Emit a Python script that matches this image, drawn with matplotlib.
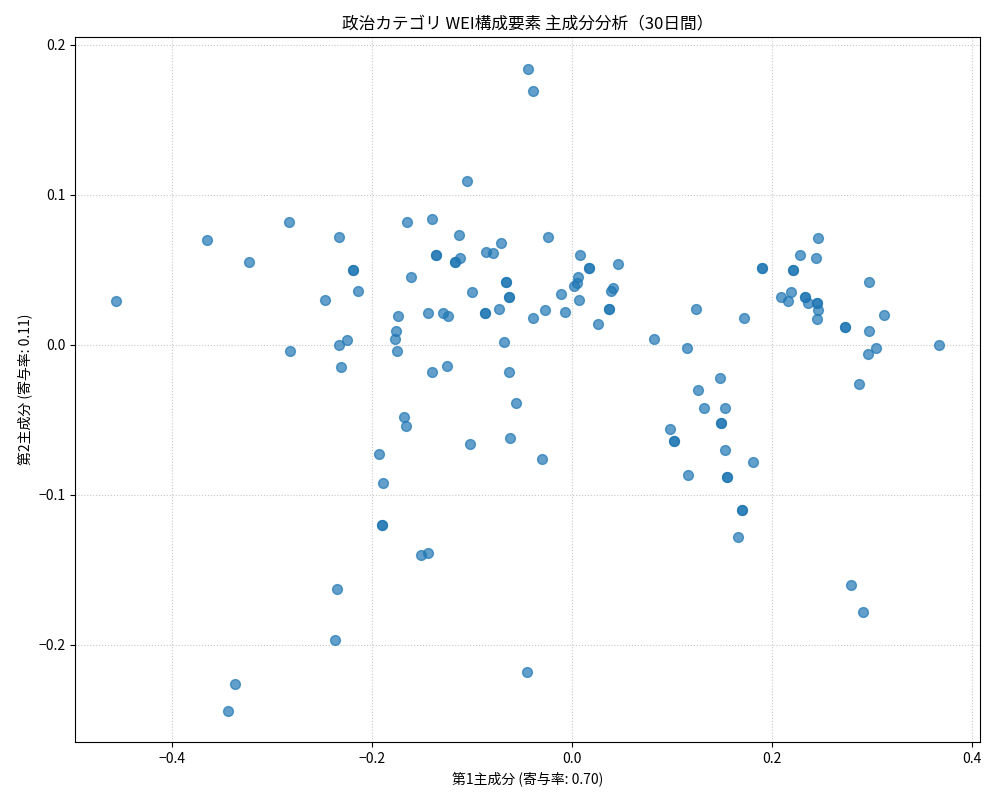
import matplotlib
matplotlib.use("Agg")
import matplotlib.pyplot as plt

plt.rcParams['font.family'] = ['Noto Sans CJK JP', 'DejaVu Sans']
plt.rcParams['axes.unicode_minus'] = True

pc1 = [
    -0.456, -0.365, -0.323, -0.283, -0.282,
    -0.044, -0.039, -0.105, -0.233, -0.165, -0.140, -0.113, -0.071, -0.086, -0.079,
    -0.136, -0.136, -0.117, -0.117, -0.112, -0.219, -0.219, -0.214, -0.247, -0.161,
    -0.066, -0.066, -0.063, -0.063, -0.100, -0.087, -0.087, -0.073, -0.174, -0.144,
    -0.129, -0.124, -0.176, -0.177, -0.175, -0.233, -0.225, -0.231, -0.140, -0.125,
    -0.068, -0.063,
    -0.024, 0.008, 0.017, 0.017, 0.046, 0.006, 0.005, 0.002, -0.011, 0.007,
    0.041, 0.039, 0.037, 0.037, -0.027, -0.039, -0.007, 0.026, 0.124, 0.172,
    0.082, 0.115, 0.148, 0.126,
    0.246, 0.228, 0.244, 0.190, 0.190, 0.221, 0.221, 0.297, 0.209, 0.219, 0.216,
    0.233, 0.233, 0.236, 0.245, 0.245, 0.246, 0.245, 0.312, 0.273, 0.273, 0.297,
    0.367, 0.304, 0.296, 0.287,
    -0.337, -0.344,
    -0.056, -0.168, -0.166, -0.062, -0.102, -0.193, -0.189, -0.190, -0.190, -0.151,
    -0.144, -0.235, -0.237, -0.045,
    -0.030, 0.132, 0.153, 0.149, 0.149, 0.098, 0.102, 0.102, 0.153, 0.181, 0.116,
    0.155, 0.155, 0.170, 0.170, 0.166,
    0.279, 0.291,
]
pc2 = [
    0.029, 0.070, 0.055, 0.082, -0.004,
    0.184, 0.169, 0.109, 0.072, 0.082, 0.084, 0.073, 0.068, 0.062, 0.061,
    0.060, 0.060, 0.055, 0.055, 0.058, 0.050, 0.050, 0.036, 0.030, 0.045,
    0.042, 0.042, 0.032, 0.032, 0.035, 0.021, 0.021, 0.024, 0.019, 0.021,
    0.021, 0.019, 0.009, 0.004, -0.004, 0.000, 0.003, -0.015, -0.018, -0.014,
    0.002, -0.018,
    0.072, 0.060, 0.051, 0.051, 0.054, 0.045, 0.041, 0.039, 0.034, 0.030,
    0.038, 0.036, 0.024, 0.024, 0.023, 0.018, 0.022, 0.014, 0.024, 0.018,
    0.004, -0.002, -0.022, -0.030,
    0.071, 0.060, 0.058, 0.051, 0.051, 0.050, 0.050, 0.042, 0.032, 0.035, 0.029,
    0.032, 0.032, 0.028, 0.028, 0.028, 0.023, 0.017, 0.020, 0.012, 0.012, 0.009,
    0.000, -0.002, -0.006, -0.026,
    -0.226, -0.244,
    -0.039, -0.048, -0.054, -0.062, -0.066, -0.073, -0.092, -0.120, -0.120, -0.140,
    -0.139, -0.163, -0.197, -0.218,
    -0.076, -0.042, -0.042, -0.052, -0.052, -0.056, -0.064, -0.064, -0.070, -0.078, -0.087,
    -0.088, -0.088, -0.110, -0.110, -0.128,
    -0.160, -0.178,
]

title = "政治カテゴリ WEI構成要素 主成分分析（30日間）"
xlabel = "第1主成分 (寄与率: 0.70)"
ylabel = "第2主成分 (寄与率: 0.11)"

fig, ax = plt.subplots(figsize=(10, 8), dpi=100)
fig.subplots_adjust(left=0.075, right=0.98, top=0.954, bottom=0.0725)
ax.scatter(pc1, pc2, s=50, alpha=0.7, color='#1f77b4')
ax.set_xlim(-0.497, 0.408)
ax.set_ylim(-0.2647, 0.2053)
ax.set_xticks([-0.4, -0.2, 0.0, 0.2, 0.4])
ax.set_yticks([-0.2, -0.1, 0.0, 0.1, 0.2])
ax.grid(True, linestyle=':', color='#b0b0b0', alpha=0.7)
ax.set_axisbelow(True)
ax.set_title(title, fontsize=12)
ax.set_xlabel(xlabel)
ax.set_ylabel(ylabel)
fig.savefig("out.png", dpi=100)
